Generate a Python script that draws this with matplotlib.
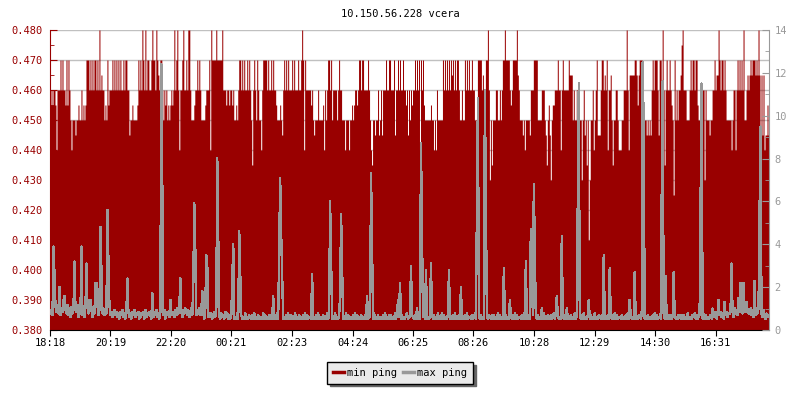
import numpy as np
import matplotlib
matplotlib.use("Agg")
import matplotlib.pyplot as plt
from matplotlib.lines import Line2D
from matplotlib.ticker import MultipleLocator, FormatStrFormatter

title = "10.150.56.228 vcera"
time_labels = ["18:18", "20:19", "22:20", "00:21", "02:23", "04:24",
               "06:25", "08:26", "10:28", "12:29", "14:30", "16:31"]
series_names = ["min ping", "max ping"]

# min ping, one char per 2-minute sample, one string per 2 hours
# digit d -> 0.440 + 0.005*d, letters are dips below 0.44
min_ping_codes = [
    "3434430444" "6464436364" "2022212232" "2423236664" "6464664648" "4544232634",
    "4464646464" "6446466441" "2232222364" "6486484664" "4686648654" "6642434232",
    "3434846840" "4468446488" "4222344646" "4222234446" "0866668666" "6684443443",
    "4434223246" "6464644646" "42a4642642" "2046666464" "4646443222" "3214646464",
    "4464644464" "4686064444" "4342122242" "2223042466" "4624444246" "4422202220",
    "2232344346" "6466444464" "20a2212241" "2414446446" "6444614464" "6446443414",
    "2434464646" "0646322222" "2322020422" "2226464646" "4656464664" "2242264646",
    "4464422266" "6645426684" "b2a2224422" "4246686666" "4346666854" "2221202222",
    "1444666622" "2244421a23" "1b23344464" "4046444446" "5552422444" "22b2412a2f",
    "b224024611" "1466454604" "452a224420" "0022444840" "5555566535" "6662222121",
    "2146466641" "66484a4644" "6432c62424" "4578444222" "4646646632" "22444b4222",
    "1224464558" "6466464222" "2202440464" "6464822454" "5656665658" "5151501131",
]
dip_levels = {"a": 0.435, "b": 0.430, "c": 0.425, "f": 0.410}

# max ping baseline, digit d -> 0.45 + 0.08*d
max_ping_base = [
    "4637285946" "3758264937" "2846375928" "4736285947" "3628475936" "2847364829",
    "3524635241" "5362415352" "4153624351" "2435162435" "3142536241" "5243615342",
    "2435263748" "3526475362" "4736253647" "3524163524" "2413524132" "1423152413",
    "1213121412" "1312141213" "2131412131" "1214131213" "1312131412" "2131213141",
    "1312141213" "1213141312" "2131213141" "1213121413" "1312141213" "2131214131",
    "1213141312" "1312131412" "2131412131" "1213141213" "1312141312" "2131213412",
    "2132131412" "1312413121" "2131312141" "2141312131" "1213141213" "1312131412",
    "2131241312" "1312141213" "2131312141" "3121413121" "1213141312" "2131412131",
    "1213142131" "2131412131" "1312413121" "2142131312" "1312141213" "2131412131",
    "1312141213" "2131412131" "1213141312" "2131213141" "1312141213" "2131412131",
    "1213141312" "2131412131" "1312141213" "2131312141" "1213241312" "3121413121",
    "2314253142" "3524163524" "4635274635" "5364275364" "4736253647" "5342631423",
]
spike_idx = [3, 4, 9, 13, 14, 24, 31, 36, 40, 45, 46, 50, 51, 57, 58, 77, 102,
             111, 112, 120, 130, 143, 144, 145, 152, 156, 157, 167, 168, 182,
             183, 189, 190, 223, 229, 230, 231, 232, 262, 280, 281, 290, 291,
             292, 317, 321, 322, 348, 350, 361, 367, 371, 372, 376, 381, 399,
             411, 427, 428, 435, 436, 454, 460, 476, 481, 482, 484, 485, 492,
             507, 512, 517, 528, 529, 539, 554, 560, 580, 585, 593, 594, 612,
             613, 616, 624, 651, 652, 663, 669, 675, 682, 689, 691, 694, 697,
             705, 710, 711]
spike_val = [3.9, 2.6, 2.0, 1.4, 1.6, 3.2, 3.9, 3.1, 1.4, 2.2, 2.2, 4.8, 2.7,
             5.6, 3.2, 2.4, 1.7, 12.4, 6.5, 1.4, 2.4, 2.2, 5.9, 3.8, 1.8, 3.5,
             3.0, 8.0, 4.3, 2.3, 4.0, 4.6, 2.7, 1.6, 3.9, 7.1, 4.5, 2.6, 2.6,
             6.0, 3.3, 1.6, 5.4, 3.0, 1.6, 7.3, 3.9, 1.4, 2.2, 3.0, 1.0, 8.7,
             4.7, 2.8, 3.1, 2.8, 2.0, 5.7, 10.8, 11.2, 5.9, 2.9, 1.4, 3.2, 4.7,
             3.4, 6.8, 3.7, 1.0, 1.6, 4.4, 1.0, 6.1, 11.5, 1.4, 3.5, 2.9, 1.4,
             2.7, 12.5, 9.5, 6.1, 11.6, 2.5, 2.7, 6.1, 11.5, 1.0, 1.4, 1.3, 3.1,
             1.5, 2.2, 2.2, 1.3, 2.3, 5.1, 9.5]

red = "#990000"
grey = "#999999"

codes = "".join(min_ping_codes)
min_ping = np.array([dip_levels[c] if c in dip_levels else 0.44 + 0.005 * int(c)
                     for c in codes])
max_ping = np.array([0.45 + 0.08 * int(c) for c in "".join(max_ping_base)])
max_ping[spike_idx] = spike_val

t = np.arange(len(min_ping)) * 2.0
t_ext = np.append(t, t[-1] + 2)
min_ext = np.append(min_ping, min_ping[-1])


def to_min(s):
    h, m = map(int, s.split(":"))
    return ((h * 60 + m) - (18 * 60 + 18)) % 1440


plt.rcParams["font.family"] = "DejaVu Sans Mono"
plt.rcParams["font.size"] = 7.5

fig = plt.figure(figsize=(8, 4), dpi=100)
ax = fig.add_axes([50 / 800, 70 / 400, 719 / 800, 300 / 400])
ax.fill_between(t_ext, 0.38, min_ext, step="post", color=red, lw=0,
                antialiased=False, zorder=2)
ax.set_xlim(0, 1440)
ax.set_ylim(0.38, 0.48)
ax.set_axisbelow(True)
ax.yaxis.grid(True, color="#c0c0c0", lw=1)
ax.yaxis.set_major_locator(MultipleLocator(0.01))
ax.yaxis.set_minor_locator(MultipleLocator(0.005))
ax.yaxis.set_major_formatter(FormatStrFormatter("%.3f"))
ax.tick_params(axis="y", which="major", direction="in", length=5,
               colors=red, pad=5)
ax.tick_params(axis="y", which="minor", direction="in", length=3, colors=red)
ax.set_xticks([to_min(s) for s in time_labels])
ax.set_xticklabels(time_labels)
ax.tick_params(axis="x", direction="out", length=4, color="black", pad=2)
ax.spines["top"].set_visible(False)
ax.spines["right"].set_visible(False)
ax.spines["left"].set_color(red)
ax.spines["bottom"].set_color("black")

ax2 = ax.twinx()
ax2.plot(t + 1, max_ping, color=grey, lw=1, antialiased=False)
ax2.set_ylim(0, 14)
ax2.yaxis.set_major_locator(MultipleLocator(2))
ax2.yaxis.set_minor_locator(MultipleLocator(1))
ax2.tick_params(axis="y", which="major", direction="in", length=5,
                colors=grey, pad=4)
ax2.tick_params(axis="y", which="minor", direction="in", length=3, colors=grey)
for side in ["top", "left", "bottom"]:
    ax2.spines[side].set_visible(False)
ax2.spines["right"].set_color(grey)

fig.text(0.5, 1 - 14 / 400, title, ha="center", va="center")

handles = [Line2D([], [], color=red, lw=2.5), Line2D([], [], color=grey, lw=2.5)]
leg = fig.legend(handles, series_names, loc="upper center",
                 bbox_to_anchor=(0.5, 1 - 357 / 400), ncol=2,
                 fancybox=False, shadow={"color": "#666666", "alpha": 1},
                 facecolor="#eaeaea", edgecolor="black", framealpha=1,
                 handlelength=1.1, handletextpad=0.3, columnspacing=0.5,
                 borderpad=0.55)
leg.get_frame().set_linewidth(1)

fig.savefig("out.png", dpi=100)
